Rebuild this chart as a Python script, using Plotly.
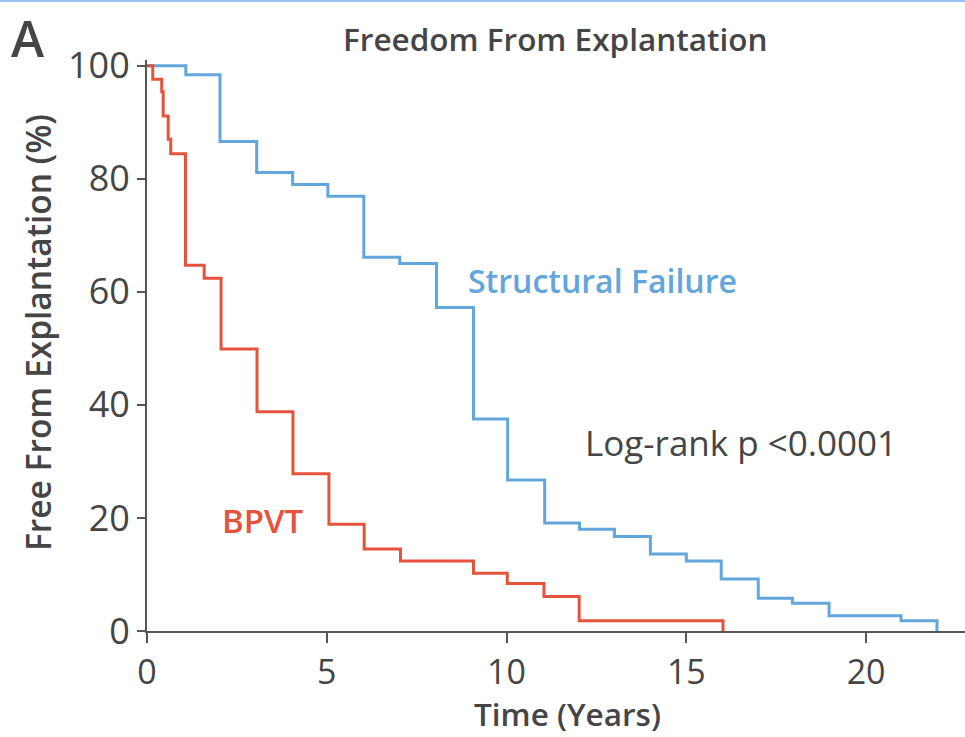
import plotly.graph_objects as go

# Structural Failure (Kaplan-Meier steps)
sf_time = [0, 1.08, 2.03, 3.05, 4.05, 5.03, 6.03, 7.03, 8.05, 9.08, 10.03, 11.06,
           12.03, 13.0, 14.0, 15.0, 15.97, 17.0, 17.95, 18.97, 20.97, 21.97]
sf_surv = [100, 98.4, 86.6, 81.1, 79.0, 76.9, 66.1, 65.0, 57.2, 37.5, 26.7, 19.1,
           18.0, 16.7, 13.6, 12.4, 9.2, 5.8, 4.9, 2.7, 1.8, 0]

# BPVT
bp_time = [0, 0.16, 0.41, 0.45, 0.59, 0.66, 1.07, 1.59, 2.06, 3.06, 4.06, 5.06,
           6.04, 7.05, 9.08, 10.02, 11.04, 12.02, 16.02]
bp_surv = [100, 97.6, 95.4, 91.1, 87.0, 84.4, 64.7, 62.4, 49.9, 38.8, 27.8, 18.9,
           14.5, 12.4, 10.2, 8.4, 6.1, 1.8, 0]

x_ticks = [0, 5, 10, 15, 20]
y_ticks = [0, 20, 40, 60, 80, 100]

BLUE = "#62a6db"
RED = "#e6533c"
GRAY = "#454545"
AXIS = "#555555"
FONT = "Open Sans"

fig = go.Figure()
fig.add_trace(go.Scatter(x=sf_time, y=sf_surv, mode="lines", line_shape="hv",
                         line=dict(color=BLUE, width=3), showlegend=False))
fig.add_trace(go.Scatter(x=bp_time, y=bp_surv, mode="lines", line_shape="hv",
                         line=dict(color=RED, width=3), showlegend=False))

fig.update_layout(
    width=965, height=737,
    margin=dict(l=147, r=0, t=60, b=106),
    paper_bgcolor="white", plot_bgcolor="white",
    font=dict(family=FONT, color=GRAY),
    xaxis=dict(range=[0, 22.75], tickvals=x_ticks, ticktext=[str(v) for v in x_ticks],
               showgrid=False, zeroline=False, showline=True, linecolor=AXIS, linewidth=2,
               ticks="outside", ticklen=10, tickwidth=2, tickcolor=AXIS,
               tickfont=dict(size=34, color=GRAY, family=FONT)),
    yaxis=dict(range=[0, 101], tickvals=y_ticks, ticktext=[str(v) for v in y_ticks],
               showgrid=False, zeroline=False, showline=True, linecolor=AXIS, linewidth=2,
               ticks="outside", ticklen=8, tickwidth=2, tickcolor=AXIS,
               tickfont=dict(size=36, color=GRAY, family=FONT)),
    shapes=[
        dict(type="line", xref="paper", yref="paper", x0=-7 / 818, x1=0, y0=0, y1=0,
             line=dict(color=AXIS, width=2)),
        dict(type="line", xref="paper", yref="paper", x0=-147 / 818, x1=1,
             y0=1 + 59 / 571, y1=1 + 59 / 571, line=dict(color="#9cc3f5", width=2)),
    ],
    annotations=[
        dict(text="A", xref="paper", yref="paper", x=-147 / 818 + 9 / 818,
             y=1 + 58 / 571, xanchor="left", yanchor="top", showarrow=False,
             font=dict(size=50, color=GRAY, family=FONT, weight=600)),
        dict(text="Freedom From Explantation", xref="paper", yref="paper",
             x=(555 - 147) / 818, y=1 + 22 / 571, xanchor="center", yanchor="middle",
             showarrow=False, font=dict(size=31.5, color=GRAY, family=FONT, weight=600)),
        dict(text="Time (Years)", xref="paper", yref="paper",
             x=(567 - 147) / 818, y=-(737 - 631) / 571, xanchor="center", yanchor="bottom",
             showarrow=False, font=dict(size=31.5, color=GRAY, family=FONT, weight=600)),
        dict(text="Free From Explantation (%)", xref="paper", yref="paper",
             x=-(147 - 38) / 818, y=(631 - 333) / 571, xanchor="center", yanchor="middle",
             textangle=-90, showarrow=False,
             font=dict(size=33.5, color=GRAY, family=FONT, weight=600)),
        dict(text="Structural Failure", xref="paper", yref="paper",
             x=(602 - 147) / 818, y=(631 - 280) / 571, xanchor="center", yanchor="middle",
             showarrow=False, font=dict(size=32, color=BLUE, family=FONT, weight=600)),
        dict(text="Log-rank p <0.0001", xref="paper", yref="paper",
             x=(741 - 147) / 818, y=(631 - 442) / 571, xanchor="center", yanchor="middle",
             showarrow=False, font=dict(size=35, color=GRAY, family=FONT)),
        dict(text="BPVT", xref="paper", yref="paper",
             x=(263 - 147) / 818, y=(631 - 520) / 571, xanchor="center", yanchor="middle",
             showarrow=False, font=dict(size=33, color=RED, family=FONT, weight=600)),
    ],
)

fig.write_html("out.html")
